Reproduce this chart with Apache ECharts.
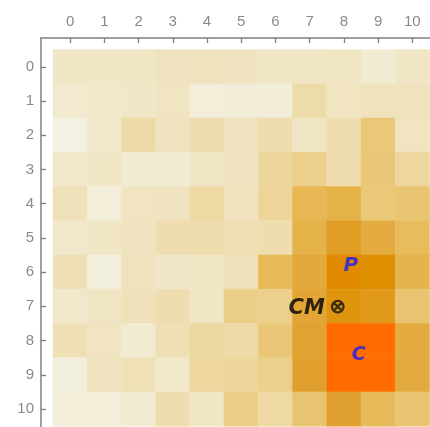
<!DOCTYPE html>
<html>
<head>
<meta charset="utf-8">
<script src="https://cdn.jsdelivr.net/npm/echarts@6/dist/echarts.min.js"></script>
<style>
html,body{margin:0;padding:0;background:#fff;}
#c{width:430px;height:427px;}
</style>
</head>
<body>
<div id="c"></div>
<script>
// Tick labels / categories
const xTicks = [0,1,2,3,4,5,6,7,8,9,10];
const yTicks = [0,1,2,3,4,5,6,7,8,9,10];
const tickLabels = ['0','1','2','3','4','5','6','7','8','9','10'];

// Cell intensities, one array per row (row 0 at top), columns 0..10
const row0  = [1.0, 1.0, 1.05, 1.4, 1.55, 1.4, 1.0, 1.1, 1.15, 0.55, 1.05];
const row1  = [0.65, 0.8, 0.9, 1.3, 0.3, 0.35, 0.35, 2.45, 1.3, 1.55, 1.55];
const row2  = [0.0, 0.8, 2.55, 1.4, 2.2, 1.4, 2.2, 1.0, 2.2, 3.95, 1.3];
const row3  = [0.8, 1.0, 0.55, 0.55, 1.0, 1.4, 3.0, 3.45, 2.2, 4.0, 2.9];
const row4  = [1.7, 0.3, 1.3, 1.4, 2.65, 1.6, 3.05, 4.85, 5.1, 3.95, 4.1];
const row5  = [0.8, 1.0, 1.4, 2.2, 2.35, 2.1, 2.2, 5.1, 6.25, 5.45, 4.6];
const row6  = [2.0, 0.2, 1.55, 0.9, 1.1, 1.7, 4.7, 5.6, 7.15, 7.0, 5.0];
const row7  = [0.8, 1.15, 1.7, 2.2, 1.1, 3.5, 3.45, 5.8, 6.7, 6.45, 4.15];
const row8  = [2.0, 1.3, 0.55, 2.0, 2.8, 2.55, 4.0, 5.95, 8, 8, 5.45];
const row9  = [0.2, 1.4, 1.9, 0.8, 2.9, 3.0, 3.45, 6.05, 8, 8, 5.5];
const row10 = [0.3, 0.3, 0.55, 2.2, 1.0, 3.6, 2.7, 4.15, 6.0, 4.7, 4.1];
const heatRows = [row0,row1,row2,row3,row4,row5,row6,row7,row8,row9,row10];

// Annotations
const markNames = ['P', 'C'];
const markX = [8.2, 8.43];
const markY = [5.815, 8.42];
const markSizes = [20, 19];
const cmName = 'CM';
const cmX = [7.82];
const cmY = [7.01];

const colorStops = ['#F3F1E1','#F0E6C6','#EFDFB5','#EDD69C','#E9C776','#E5B44D','#E1A130','#DE9000','#FF6C00'];

const cells = [];
heatRows.forEach((r, yi) => r.forEach((v, xi) => cells.push([xTicks[xi], yTicks[yi], v])));

const axisColor = '#808080';
const labelColor = '#8a8a8a';
const fontFam = '"Liberation Sans", Arial, sans-serif';
const otimesPath = 'path://M10,0 A10,10 0 1,1 -10,0 A10,10 0 1,1 10,0 Z M-7.07,-7.07 L7.07,7.07 M7.07,-7.07 L-7.07,7.07';

const chart = echarts.init(document.getElementById('c'), null, {renderer:'canvas'});
chart.setOption({
  animation: false,
  backgroundColor: '#ffffff',
  grid: {left: 41, top: 38, right: 0, bottom: 0, containLabel: false},
  xAxis: {
    type: 'value', position: 'top', min: -0.85, max: 10.515,
    axisLine: {show: true, onZero: false, lineStyle: {color: axisColor, width: 1.5}},
    axisTick: {show: true, inside: true, length: 5, customValues: xTicks, lineStyle: {color: axisColor, width: 1.3}},
    axisLabel: {show: true, customValues: xTicks, formatter: v => tickLabels[Math.round(v)], color: labelColor, fontSize: 15, fontFamily: fontFam, margin: 9},
    splitLine: {show: false}
  },
  yAxis: {
    type: 'value', inverse: true, position: 'left', min: -0.84, max: 10.525,
    axisLine: {show: true, onZero: false, lineStyle: {color: axisColor, width: 1.5}},
    axisTick: {show: true, inside: true, length: 5, customValues: yTicks, lineStyle: {color: axisColor, width: 1.3}},
    axisLabel: {show: true, customValues: yTicks, formatter: v => tickLabels[Math.round(v)], color: labelColor, fontSize: 15, fontFamily: fontFam, margin: 7},
    splitLine: {show: false}
  },
  visualMap: {
    show: false, type: 'continuous', min: 0, max: 8, dimension: 2, seriesIndex: 0,
    inRange: {color: colorStops}
  },
  series: [
    {
      type: 'custom',
      data: cells,
      encode: {x: 0, y: 1},
      renderItem: function (params, api) {
        const x = api.value(0), y = api.value(1);
        const p0 = api.coord([x - 0.5, y - 0.5]);
        const p1 = api.coord([x + 0.5, y + 0.5]);
        const c = api.visual('color');
        return {
          type: 'rect',
          shape: {x: Math.min(p0[0], p1[0]), y: Math.min(p0[1], p1[1]), width: Math.abs(p1[0] - p0[0]), height: Math.abs(p1[1] - p0[1])},
          style: {fill: c, stroke: c, lineWidth: 0.6}
        };
      },
      z: 1
    },
    {
      type: 'scatter',
      data: markNames.map((n, i) => ({name: n, value: [markX[i], markY[i]], label: {fontSize: markSizes[i]}})),
      symbolSize: 0,
      label: {show: true, position: 'inside', formatter: p => p.name, color: '#1a1af5', fontWeight: 'bold', fontStyle: 'italic', fontFamily: '"DejaVu Sans", sans-serif'},
      z: 3
    },
    {
      type: 'scatter',
      data: cmX.map((x, i) => ({name: cmName, value: [x, cmY[i]]})),
      symbol: otimesPath,
      symbolSize: 11.5,
      itemStyle: {color: 'rgba(0,0,0,0)', borderColor: '#111', borderWidth: 2.3},
      label: {show: true, position: 'left', distance: 6, offset: [0, 2], formatter: p => p.name, color: '#000', fontSize: 21, fontWeight: 'bold', fontStyle: 'italic', fontFamily: '"DejaVu Sans", sans-serif'},
      z: 3
    }
  ]
});
</script>
</body>
</html>
